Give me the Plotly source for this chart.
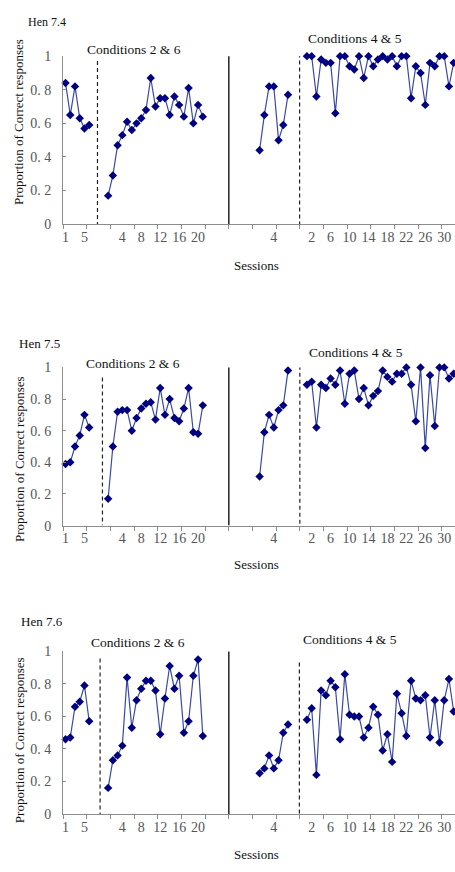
import plotly.graph_objects as go

# ---------------- data ----------------
hens = ["Hen 7.4", "Hen 7.5", "Hen 7.6"]

# segment offsets on the shared category axis (index of session 1)
seg_offsets = [0, 9, 41, 51]

h74_seg1 = [0.84, 0.65, 0.82, 0.63, 0.57, 0.59]
h74_seg2 = [0.17, 0.29, 0.47, 0.53, 0.61, 0.56, 0.60, 0.63, 0.68, 0.87, 0.70,
            0.75, 0.75, 0.65, 0.76, 0.71, 0.64, 0.81, 0.60, 0.71, 0.64]
h74_seg3 = [0.44, 0.65, 0.82, 0.82, 0.50, 0.59, 0.77]
h74_seg4 = [1.00, 1.00, 0.76, 0.98, 0.96, 0.96, 0.66, 1.00, 1.00, 0.94, 0.92,
            1.00, 0.87, 1.00, 0.94, 0.98, 1.00, 0.98, 1.00, 0.94, 1.00, 1.00,
            0.75, 0.94, 0.90, 0.71, 0.96, 0.94, 1.00, 1.00, 0.82, 0.96]

h75_seg1 = [0.39, 0.40, 0.50, 0.57, 0.70, 0.62]
h75_seg2 = [0.17, 0.50, 0.72, 0.73, 0.73, 0.60, 0.68, 0.74, 0.77, 0.78, 0.67,
            0.87, 0.70, 0.80, 0.68, 0.66, 0.74, 0.87, 0.59, 0.58, 0.76]
h75_seg3 = [0.31, 0.59, 0.70, 0.62, 0.73, 0.76, 0.98]
h75_seg4 = [0.89, 0.91, 0.62, 0.89, 0.87, 0.93, 0.89, 0.98, 0.77, 0.96, 0.98,
            0.80, 0.87, 0.76, 0.82, 0.85, 0.98, 0.94, 0.91, 0.96, 0.96, 1.00,
            0.89, 0.66, 1.00, 0.49, 0.95, 0.63, 1.00, 1.00, 0.93, 0.96]

h76_seg1 = [0.46, 0.47, 0.66, 0.69, 0.79, 0.57]
h76_seg2 = [0.16, 0.33, 0.36, 0.42, 0.84, 0.53, 0.70, 0.77, 0.82, 0.82, 0.76,
            0.49, 0.71, 0.91, 0.77, 0.85, 0.50, 0.57, 0.85, 0.95, 0.48]
h76_seg3 = [0.25, 0.28, 0.36, 0.28, 0.33, 0.50, 0.55]
h76_seg4 = [0.58, 0.65, 0.24, 0.76, 0.73, 0.82, 0.78, 0.46, 0.86, 0.61, 0.60,
            0.60, 0.47, 0.53, 0.66, 0.61, 0.39, 0.49, 0.32, 0.74, 0.62, 0.48,
            0.82, 0.71, 0.70, 0.73, 0.47, 0.70, 0.44, 0.70, 0.83, 0.63]

data = [
    [h74_seg1, h74_seg2, h74_seg3, h74_seg4],
    [h75_seg1, h75_seg2, h75_seg3, h75_seg4],
    [h76_seg1, h76_seg2, h76_seg3, h76_seg4],
]

y_tickvals = [0, 0.2, 0.4, 0.6, 0.8, 1]
y_ticktext = ["0", "0. 2", "0. 4", "0. 6", "0. 8", "1"]
condition_labels = ["Conditions 2 & 6", "Conditions 4 & 5"]

# ---------------- layout helpers ----------------
W, H = 455, 872


def px(x):
    return x / W


def py(y):
    return 1 - y / H


FONT = "Liberation Serif, Times New Roman, serif"
LINE_COLOR = "#3a48a8"
MARKER_COLOR = "#000080"
AXIS_GRAY = "#8c8c8c"
TICK_GRAY = "#555555"
TEXT_COLOR = "#111111"

# category tick labels every 4 categories
tick_pos = list(range(0, 81, 4))
tick_txt = []
for p in tick_pos:
    lab = ""
    for off, seg in zip(seg_offsets, data[0]):
        if off <= p < off + len(seg):
            lab = str(p - off + 1)
    tick_txt.append(lab)

# panel geometry (pixels): y of value 0, y of value 1
panels = [
    dict(y0=221.0, y1=50.0, hen=(46, 15, 12),
         cond=[(133, 43), (355, 32)], sess=263, ytitle=117,
         solid_top=38, dash1=(6.75, 55), dash2=(49.45, 33)),
    dict(y0=527.7, y1=366.7, hen=(39, 342, 13),
         cond=[(132.5, 363), (356, 352)], sess=567, ytitle=460,
         solid_top=347, dash1=(7.8, 377), dash2=(49.5, 358)),
    dict(y0=821.0, y1=655.7, hen=(41, 625, 13),
         cond=[(137, 647), (350, 644)], sess=862, ytitle=746,
         solid_top=641, dash1=(7.3, 663), dash2=(49.4, 667)),
]

slot = 4.744
x_left = 62.3
x_range = [-0.5, -0.5 + (W - x_left) / slot]

fig = go.Figure()
annotations = []
shapes = []


def label(text, x, y, size, angle=0):
    return dict(text=text, x=px(x), y=py(y), xref="paper", yref="paper",
                xanchor="center", yanchor="middle", showarrow=False,
                textangle=angle,
                font=dict(family=FONT, size=size, color=TEXT_COLOR))


for i, (panel, segs) in enumerate(zip(panels, data)):
    n = i + 1
    xa = "x" if n == 1 else f"x{n}"
    ya = "y" if n == 1 else f"y{n}"
    for off, seg in zip(seg_offsets, segs):
        fig.add_trace(go.Scatter(
            x=[off + k for k in range(len(seg))], y=seg,
            mode="lines+markers", xaxis=xa, yaxis=ya,
            line=dict(color=LINE_COLOR, width=1.2),
            marker=dict(symbol="diamond", size=6.5, color=MARKER_COLOR),
            cliponaxis=False, showlegend=False, hoverinfo="x+y",
        ))

    ydom = [py(panel["y0"]), py(panel["y1"])]
    fig.update_layout(**{
        ("xaxis" if n == 1 else f"xaxis{n}"): dict(
            domain=[px(x_left), 1], range=x_range, anchor=ya,
            tickmode="array", tickvals=tick_pos, ticktext=tick_txt,
            ticks="", showline=True, linecolor=AXIS_GRAY, linewidth=1,
            showgrid=False, zeroline=False,
            tickfont=dict(family=FONT, size=14, color=TICK_GRAY),
            minor=dict(tick0=4.5, dtick=5, ticks="outside", ticklen=4,
                       tickcolor=AXIS_GRAY, showgrid=False),
        ),
        ("yaxis" if n == 1 else f"yaxis{n}"): dict(
            domain=ydom, range=[0, 1], anchor=xa,
            tickmode="array", tickvals=y_tickvals, ticktext=y_ticktext,
            ticks="inside", ticklen=3, tickcolor=AXIS_GRAY,
            showline=True, linecolor=AXIS_GRAY, linewidth=1,
            showgrid=False, zeroline=False, ticklabelstandoff=8,
            tickfont=dict(family=FONT, size=14, color=TICK_GRAY),
        ),
    })

    yunit = panel["y0"] - panel["y1"]

    def yv(ypix):
        return (panel["y0"] - ypix) / yunit

    # solid separator
    shapes.append(dict(type="line", xref=xa, yref=ya, x0=34.5, x1=34.5,
                       y0=yv(panel["solid_top"]), y1=0,
                       line=dict(color="black", width=1.3)))
    for dx, dtop in (panel["dash1"], panel["dash2"]):
        shapes.append(dict(type="line", xref=xa, yref=ya, x0=dx, x1=dx,
                           y0=yv(dtop), y1=0,
                           line=dict(color="#222222", width=1.2,
                                     dash="4px,3px")))

    hx, hy, hs = panel["hen"]
    annotations.append(label(hens[i], hx, hy, hs))
    for (cx, cy), lab in zip(panel["cond"], condition_labels):
        annotations.append(label(lab, cx, cy, 13.5))
    annotations.append(label("Sessions", 256, panel["sess"], 13))
    annotations.append(label("Proportion of Correct responses", 18,
                             panel["ytitle"], 13, angle=-90))

fig.update_layout(
    width=W, height=H, margin=dict(l=0, r=0, t=0, b=0),
    paper_bgcolor="white", plot_bgcolor="white",
    annotations=annotations, shapes=shapes,
)

page_css = (
    "document.documentElement.style.margin='0';"
    "document.documentElement.style.padding='0';"
    "document.documentElement.style.overflow='hidden';"
    "document.body.style.margin='0';"
    "document.body.style.padding='0';"
    "document.body.style.overflow='hidden';"
)

fig.write_html("out.html", post_script=page_css,
               config={"displayModeBar": False})
